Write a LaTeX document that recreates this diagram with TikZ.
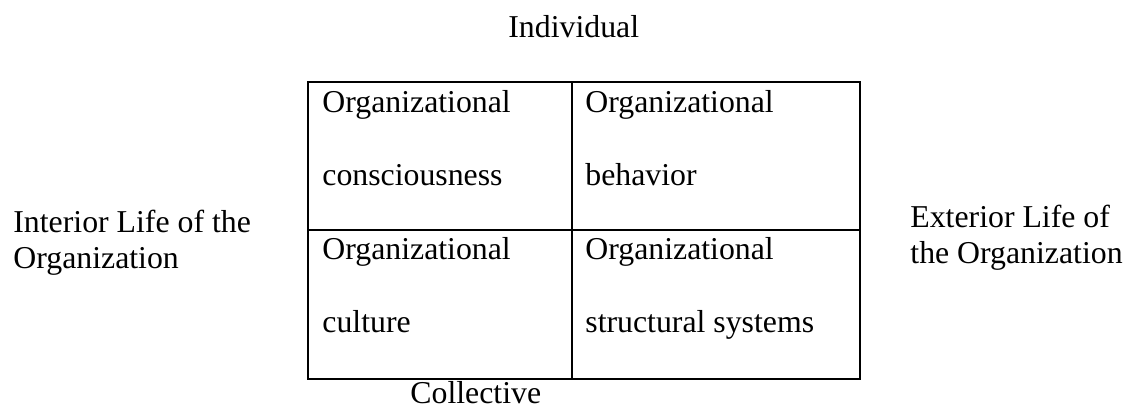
\documentclass[tikz,border=0pt]{standalone}
\usepackage{fontspec}
\setmainfont{Liberation Serif}

\begin{document}
\begin{tikzpicture}[x=0.5pt,y=-0.5pt,
  cell/.style={anchor=base west,inner sep=0pt,align=left,font=\fontsize{15.9}{36.5}\selectfont},
  side/.style={anchor=base west,inner sep=0pt,align=left,font=\fontsize{15.9}{18}\selectfont},
  axis/.style={anchor=base west,inner sep=0pt,font=\fontsize{15.9}{18}\selectfont}]
  \useasboundingbox (0,0) rectangle (1130,412);

  % Draw the grid
  \draw[line width=1pt] (308,82) rectangle (860,379);
  \draw[line width=1pt] (572,82) -- (572,379); % middle column
  \draw[line width=1pt] (308,230) -- (860,230); % middle row

  % Quadrants (anchored on the baseline of the second line)
  \node[cell] (consc) at (322,185) {Organizational\\consciousness};
  \node[cell] (behav) at (585,185) {Organizational\\behavior};
  \node[cell] (cult) at (322,332) {Organizational\\culture};
  \node[cell] (struct) at (585,332) {Organizational\\structural systems};

  % Add labels
  \node[axis] (indiv) at (508,37) {Individual};
  \node[axis] (coll) at (410,403) {Collective};
  \node[side] (inter) at (13,268) {Interior Life of the\\Organization};
  \node[side] (exter) at (910,263) {Exterior Life of\\the Organization};
\end{tikzpicture}
\end{document}
